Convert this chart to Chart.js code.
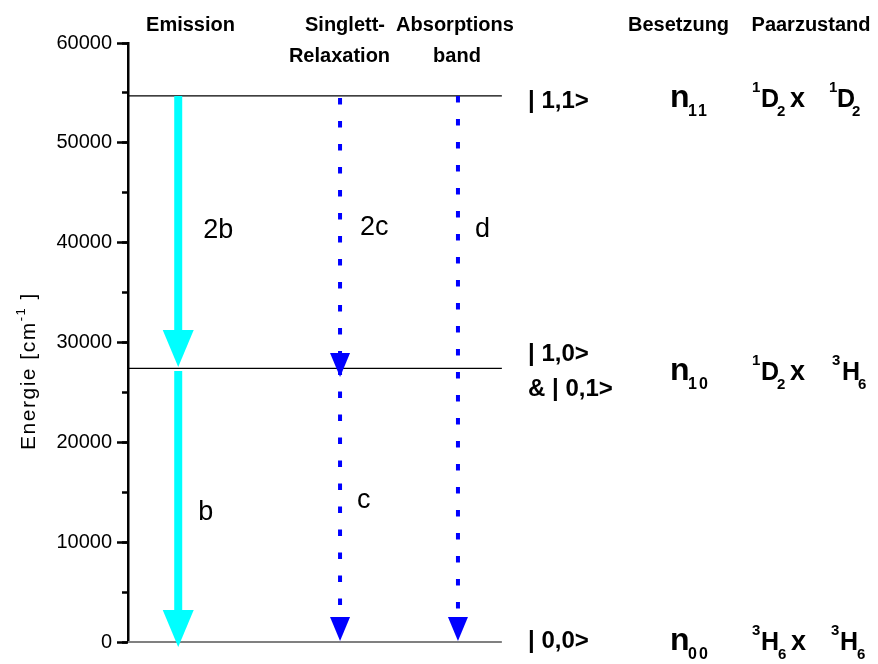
<!DOCTYPE html>
<html><head><meta charset="utf-8">
<script src="https://cdn.jsdelivr.net/npm/chart.js@4/dist/chart.umd.min.js"></script>
<style>html,body{margin:0;padding:0;background:#fff}canvas{display:block}</style>
</head><body>
<canvas id="c" width="878" height="664"></canvas>
<script>
// ---- data ----
const yMin = 0, yMax = 60000, yStep = 10000, yMinorStep = 5000;
const levelEnergies = [54700, 27400, 0];
const levelNames = [['| 1,1>'], ['| 1,0>', '& | 0,1>'], ['| 0,0>']];
const occupationIdx = ['11', '10', '00'];
const pairStates = [
  [['1','D','2'], ['1','D','2']],
  [['1','D','2'], ['3','H','6']],
  [['3','H','6'], ['3','H','6']]
];
const columnHeaders = ['Emission', 'Singlett-', 'Relaxation', 'Absorptions', 'band', 'Besetzung', 'Paarzustand'];
const arrowLabels = ['2b', 'b', '2c', 'c', 'd'];
const arrowColumn = [13.5, 13.5, 57, 57, 88.7];
const arrowFrom = [54700, 27150, 54500, 27400, 54700];
const arrowTo = [27550, -500, 26550, 100, 100];
const arrowKind = ['emission', 'emission', 'dotted', 'dotted', 'dotted'];
const yTitle = ['Energie [cm', '-1', ' ]'];

// ---- styles / layout ----
const FONT = '"Liberation Sans", Arial, sans-serif';
const arrowStyles = {
  emission: {color: '#00FFFF', width: 8, dash: [], headW: 31, headH: 37},
  dotted: {color: '#0000FF', width: 4, dash: [6.5, 16.5], headW: 20, headH: 24}
};
const headerPos = [[190.5, 31], [345, 31], [339.5, 62], [455, 31], [457, 62], [678.5, 31], [811, 31]];
const arrowLabelPos = [[25, 238], [20, 520], [20, 235], [17, 508], [17, 237]]; // dx from arrow, baseline px
const levelLabelOffsets = [[12], [-7, 28], [6]];
const rowOffsets = [11, 12, 8];

Chart.defaults.font.family = FONT;
Chart.defaults.color = '#000';

const arrowPlugin = {
  id: 'arrows',
  afterDatasetsDraw(chart) {
    const {ctx} = chart; const x = chart.scales.x, y = chart.scales.y;
    for (let i = 0; i < arrowLabels.length; i++) {
      const st = arrowStyles[arrowKind[i]];
      const px = x.getPixelForValue(arrowColumn[i]);
      const y0 = y.getPixelForValue(arrowFrom[i]);
      const y1 = y.getPixelForValue(arrowTo[i]);
      const base = y1 - st.headH;
      ctx.save();
      ctx.strokeStyle = st.color; ctx.lineWidth = st.width; ctx.lineCap = 'butt';
      ctx.setLineDash(st.dash);
      ctx.beginPath(); ctx.moveTo(px, y0); ctx.lineTo(px, base + 1); ctx.stroke();
      ctx.setLineDash([]);
      ctx.fillStyle = st.color;
      ctx.beginPath();
      ctx.moveTo(px - st.headW / 2, base); ctx.lineTo(px + st.headW / 2, base); ctx.lineTo(px, y1);
      ctx.closePath(); ctx.fill();
      // label
      ctx.fillStyle = '#000'; ctx.font = '27px ' + FONT; ctx.textAlign = 'left'; ctx.textBaseline = 'alphabetic';
      ctx.fillText(arrowLabels[i], px + arrowLabelPos[i][0], arrowLabelPos[i][1]);
      ctx.restore();
    }
  }
};

const textPlugin = {
  id: 'texts',
  afterDraw(chart) {
    const {ctx} = chart; const y = chart.scales.y;
    ctx.save();
    ctx.fillStyle = '#000'; ctx.textBaseline = 'alphabetic';
    // headers
    ctx.font = 'bold 20px ' + FONT; ctx.textAlign = 'center';
    columnHeaders.forEach((t, i) => ctx.fillText(t, headerPos[i][0], headerPos[i][1]));
    ctx.textAlign = 'left';
    levelEnergies.forEach((e, r) => {
      const py = y.getPixelForValue(e);
      // level names
      ctx.font = 'bold 24px ' + FONT;
      levelNames[r].forEach((t, k) => ctx.fillText(t, 528, py + levelLabelOffsets[r][k]));
      const b = py + rowOffsets[r];
      // occupation
      ctx.font = 'bold 32px ' + FONT; ctx.fillText('n', 670, b);
      ctx.font = 'bold 16px ' + FONT; ctx.letterSpacing = '2px'; ctx.fillText(occupationIdx[r], 688, b + 9); ctx.letterSpacing = '0px';
      // pair state
      const xs = r === 2 ? [[752, 761, 778], [831, 840, 857]] : (r === 1 ? [[752, 761, 777], [832, 842, 858]] : [[752, 761, 777], [829, 837, 852]]);
      pairStates[r].forEach((p, k) => {
        ctx.font = 'bold 15px ' + FONT; ctx.fillText(p[0], xs[k][0], b - 15);
        ctx.font = 'bold 25px ' + FONT; ctx.fillText(p[1], xs[k][1], b);
        ctx.font = 'bold 15px ' + FONT; ctx.fillText(p[2], xs[k][2], b + 9);
      });
      ctx.font = 'bold 27px ' + FONT; ctx.fillText('x', r === 2 ? 791 : 790, b);
    });
    // y title
    ctx.translate(35, 371); ctx.rotate(-Math.PI / 2);
    ctx.letterSpacing = '1.5px';
    ctx.font = '21px ' + FONT; const w0 = ctx.measureText(yTitle[0]).width;
    ctx.font = '13px ' + FONT; const w1 = ctx.measureText(yTitle[1]).width;
    ctx.font = '21px ' + FONT; const w2 = ctx.measureText(yTitle[2]).width;
    let sx = -(w0 + w1 + w2) / 2;
    ctx.font = '21px ' + FONT; ctx.fillText(yTitle[0], sx, 0); sx += w0;
    ctx.font = '13px ' + FONT; ctx.fillText(yTitle[1], sx, -10); sx += w1;
    ctx.font = '21px ' + FONT; ctx.fillText(yTitle[2], sx, 0);
    ctx.restore();
  }
};

new Chart(document.getElementById('c'), {
  type: 'scatter',
  data: {
    datasets: levelEnergies.map((e, i) => ({
      data: [{x: 0, y: e}, {x: 100.5, y: e}],
      showLine: true,
      borderColor: i === 2 ? '#808080' : '#000',
      borderWidth: i === 2 ? 2 : 1.2,
      pointRadius: 0,
      clip: false
    }))
  },
  options: {
    responsive: false, animation: false, devicePixelRatio: 1, events: [],
    layout: {padding: {left: 0, right: 378, top: 43, bottom: 22}},
    plugins: {legend: {display: false}, tooltip: {enabled: false}},
    scales: {
      x: {type: 'linear', min: 0, max: 100, display: false},
      y: {
        type: 'linear', position: 'left', min: yMin, max: yMax, weight: 10,
        ticks: {stepSize: yStep, font: {size: 20}, color: '#000', padding: 5, callback: v => String(v)},
        grid: {drawOnChartArea: false, tickLength: 11, tickWidth: 2.5, tickColor: '#000'},
        border: {display: true, color: '#000', width: 2.5},
        afterFit(s) { s.width = 128; }
      },
      yMinor: {
        type: 'linear', position: 'left', min: yMin, max: yMax, weight: 0,
        ticks: {stepSize: yMinorStep, display: false},
        grid: {drawOnChartArea: false, tickLength: 6, tickWidth: 2.5, tickColor: '#000'},
        border: {display: false},
        afterFit(s) { s.width = 0; }
      }
    }
  },
  plugins: [arrowPlugin, textPlugin]
});
</script>
</body></html>
